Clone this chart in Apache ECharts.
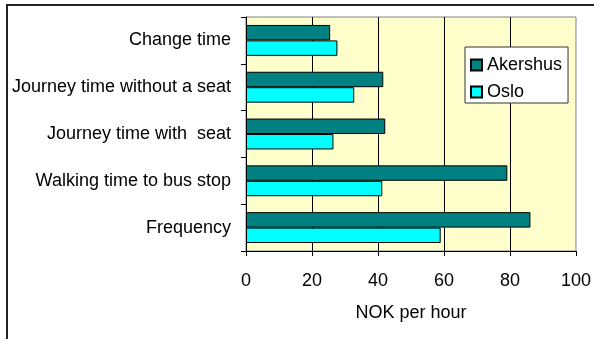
<!DOCTYPE html>
<html>
<head>
<meta charset="utf-8">
<script src="https://cdn.jsdelivr.net/npm/echarts@6/dist/echarts.min.js"></script>
<style>
  html, body { margin: 0; padding: 0; background: #fff; }
  #chart { width: 594px; height: 339px; }
</style>
</head>
<body>
<div id="chart"></div>
<script>
// Categories listed bottom-to-top (category y axis starts at the bottom)
const categories = [
  'Frequency',
  'Walking time to bus stop',
  'Journey time with  seat',
  'Journey time without a seat',
  'Change time'
];
const akershus = [86.2, 79.2, 42.2, 41.6, 25.5];
const oslo = [59.0, 41.3, 26.5, 32.8, 27.7];
const xTicks = [0, 20, 40, 60, 80, 100];

const FONT = "'Liberation Sans', Arial, sans-serif";

const chart = echarts.init(document.getElementById('chart'), null, { renderer: 'canvas' });

chart.setOption({
  backgroundColor: '#ffffff',
  animation: false,
  textStyle: { fontFamily: FONT, color: '#000' },
  graphic: [{
    type: 'rect',
    shape: { x: 7, y: 5, width: 800, height: 600 },
    style: { fill: 'none', stroke: '#222', lineWidth: 2 },
    silent: true,
    z: 100
  }],
  grid: {
    left: 246, right: 18, top: 17, bottom: 88,
    show: true,
    backgroundColor: '#FFFFCC',
    borderColor: '#808080',
    borderWidth: 1,
    containLabel: false
  },
  legend: {
    orient: 'vertical',
    left: 465,
    top: 47,
    width: 103,
    padding: [9, 6, 2, 5],
    itemGap: 9,
    itemWidth: 11,
    itemHeight: 11,
    icon: 'rect',
    backgroundColor: '#ffffff',
    borderColor: '#333',
    borderWidth: 1,
    textStyle: { fontFamily: FONT, fontSize: 18, color: '#000' },
    data: ['Akershus', 'Oslo']
  },
  xAxis: {
    type: 'value',
    min: xTicks[0],
    max: xTicks[xTicks.length - 1],
    interval: xTicks[1] - xTicks[0],
    name: 'NOK per hour',
    nameLocation: 'middle',
    nameGap: 53,
    nameTextStyle: { fontFamily: FONT, fontSize: 18, color: '#000' },
    axisLine: { show: true, lineStyle: { color: '#000', width: 1 } },
    axisTick: { show: true, length: 5, lineStyle: { color: '#000' } },
    axisLabel: { fontFamily: FONT, fontSize: 18, color: '#000', margin: 21 },
    splitLine: { show: true, showMinLine: false, showMaxLine: false, lineStyle: { color: '#000', width: 1 } }
  },
  yAxis: {
    type: 'category',
    data: categories,
    axisLine: { show: true, lineStyle: { color: '#000', width: 1 } },
    axisTick: { show: true, length: 5, lineStyle: { color: '#000' } },
    axisLabel: { fontFamily: FONT, fontSize: 18, color: '#000', margin: 15 },
    splitLine: { show: false }
  },
  series: [
    {
      name: 'Akershus',
      type: 'bar',
      data: akershus,
      barGap: '0%',
      barCategoryGap: '34%',
      itemStyle: { color: '#008080', borderColor: '#000', borderWidth: 1 }
    },
    {
      name: 'Oslo',
      type: 'bar',
      data: oslo,
      barGap: '0%',
      barCategoryGap: '34%',
      itemStyle: { color: '#00FFFF', borderColor: '#000', borderWidth: 1 }
    }
  ]
});
</script>
</body>
</html>
